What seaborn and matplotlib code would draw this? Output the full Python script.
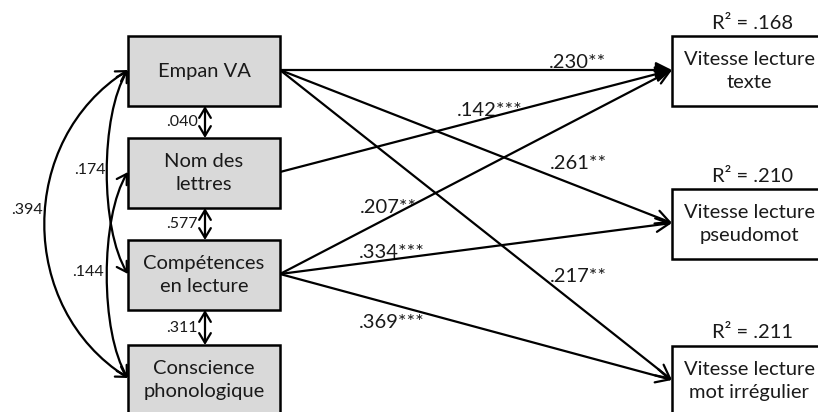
import matplotlib
matplotlib.use("Agg")
import matplotlib.pyplot as plt
from matplotlib.patches import Rectangle, FancyArrowPatch
from matplotlib.path import Path
import seaborn as sns

# data
predictors = ["Empan VA", "Nom des\nlettres", "Compétences\nen lecture", "Conscience\nphonologique"]
outcomes = ["Vitesse lecture\ntexte", "Vitesse lecture\npseudomot", "Vitesse lecture\nmot irrégulier"]
r2_values = [0.168, 0.210, 0.211]

path_from = [0, 1, 2, 0, 2, 0, 2]
path_to = [0, 0, 0, 1, 1, 2, 2]
path_coef = [0.230, 0.142, 0.207, 0.261, 0.334, 0.217, 0.369]
path_sig = ["**", "***", "**", "**", "***", "**", "***"]

adjacent_corr = [0.040, 0.577, 0.311]          # between predictor i and i+1
curve_from = [0, 0, 1]
curve_to = [3, 2, 3]
curve_corr = [0.394, 0.174, 0.144]

# layout (pixels, y down)
W, H = 818, 412
LX0, LX1 = 128, 280
RX0, RX1 = 672, 830
BOX_H = 70
pred_top = [36, 138, 240, 345]
out_top = [36, 189, 346]
path_label_xy = [(578, 62), (490, 110), (388, 207), (578, 163),
                 (392, 253), (578, 277), (392, 323)]
curve_label_xy = [(27, 210), (90, 170), (88, 272)]
curve_bulge = [(111, 70), (28, 45), (28, 45)]

sns.set_theme(style="white")
plt.rcParams['font.family'] = ['Lato', 'DejaVu Sans']

fig = plt.figure(figsize=(W / 100, H / 100), dpi=100)
ax = fig.add_axes([0, 0, 1, 1])
ax.set_xlim(0, W)
ax.set_ylim(H, 0)
ax.axis('off')

FS = 14.5
SMALL = 11.5
LW = 1.6
TXT = "#1a1a1a"


def fmt(v):
    return f"{v:.3f}"[1:]


def pred_y(i):
    return pred_top[i] + 34


def out_y(j):
    return out_top[j] + 34


for i, name in enumerate(predictors):
    ax.add_patch(Rectangle((LX0, pred_top[i]), LX1 - LX0, BOX_H, facecolor="#d9d9d9",
                           edgecolor="black", lw=1.8, zorder=3))
    ax.text((LX0 + LX1) / 2, pred_top[i] + BOX_H / 2, name, ha="center", va="center",
            fontsize=FS, linespacing=1.45, color=TXT, zorder=4)

for j, name in enumerate(outcomes):
    ax.add_patch(Rectangle((RX0, out_top[j]), RX1 - RX0, BOX_H, facecolor="white",
                           edgecolor="black", lw=1.8, zorder=3))
    ax.text(749, out_top[j] + BOX_H / 2, name, ha="center", va="center",
            fontsize=FS, linespacing=1.45, color=TXT, zorder=4)
    ax.text(753, out_top[j] - 13, f"R² = {fmt(r2_values[j])}", ha="center", va="center",
            fontsize=FS, color=TXT)

# directed paths
for k in range(len(path_coef)):
    style = "-|>" if path_to[k] == 0 and path_from[k] < 2 else "->"
    arr = FancyArrowPatch((LX1, pred_y(path_from[k])), (RX0, out_y(path_to[k])),
                          arrowstyle=style + ",head_length=0.7,head_width=0.35",
                          mutation_scale=14, lw=LW, color="black",
                          shrinkA=0, shrinkB=0, zorder=2)
    ax.add_patch(arr)
    x, y = path_label_xy[k]
    ax.text(x, y, fmt(path_coef[k]) + path_sig[k], ha="center", va="center",
            fontsize=FS, color=TXT, zorder=1)

# correlations between adjacent predictors
xm = (LX0 + LX1) / 2 + 1
for i, r in enumerate(adjacent_corr):
    y0 = pred_top[i] + BOX_H
    y1 = pred_top[i + 1]
    ax.add_patch(FancyArrowPatch((xm, y0), (xm, y1),
                                 arrowstyle="<->,head_length=0.5,head_width=0.3",
                                 mutation_scale=14, lw=LW, color="black",
                                 shrinkA=0, shrinkB=0, zorder=2))
    ax.text(xm - 23, (y0 + y1) / 2, fmt(r), ha="center", va="center",
            fontsize=SMALL, color=TXT)

# curved correlations on the left
for k, r in enumerate(curve_corr):
    ya, yb = pred_y(curve_from[k]), pred_y(curve_to[k])
    if curve_to[k] == 3:
        yb = pred_top[3] + 33
    dxk, dyk = curve_bulge[k]
    verts = [(LX0, ya), (LX0 - dxk, ya + dyk), (LX0 - dxk, yb - dyk), (LX0, yb)]
    p = Path(verts, [Path.MOVETO, Path.CURVE4, Path.CURVE4, Path.CURVE4])
    ax.add_patch(FancyArrowPatch(path=p, arrowstyle="<->,head_length=0.5,head_width=0.3",
                                 mutation_scale=14, lw=LW, color="black", zorder=2))
    x, y = curve_label_xy[k]
    ax.text(x, y, fmt(r), ha="center", va="center", fontsize=SMALL, color=TXT)

fig.savefig("out.png", dpi=100)
